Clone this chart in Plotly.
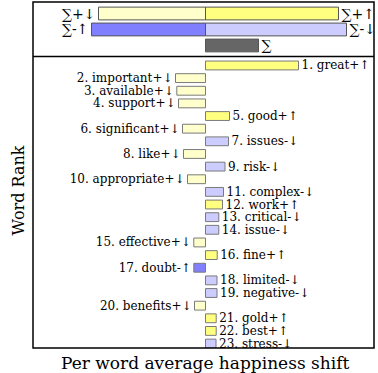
import plotly.graph_objects as go

# Top words ranked by contribution to the average happiness shift
words = ["great", "important", "available", "support", "good", "significant",
         "issues", "like", "risk", "appropriate", "complex", "work", "critical",
         "issue", "effective", "fine", "doubt", "limited", "negative", "benefits",
         "gold", "best", "stress"]
kinds = ["+↑", "+↓", "+↓", "+↓", "+↑", "+↓", "-↓", "+↓", "-↓", "+↓", "-↓", "+↑",
         "-↓", "-↓", "+↓", "+↑", "-↑", "-↓", "-↓", "+↓", "+↑", "+↑", "-↓"]
shifts = [9.3, -3.0, -2.87, -2.7, 2.4, -2.3, 2.3, -2.2, 1.95, -1.8, 1.8, 1.7,
          1.33, 1.33, -1.17, 1.17, -1.17, 1.15, 1.15, -1.1, 1.07, 1.07, 1.05]

# Summary totals by contribution type
sum_kinds = ["+↓", "+↑", "-↑", "-↓"]
sum_values = [-10.7, 13.3, -11.4, 14.1]
sum_rows = [1, 1, 2, 2]
total = sum(sum_values)

colors = {"+↑": "#FFFF80", "+↓": "#FFFFCC", "-↑": "#8080FF", "-↓": "#CCCCFF"}
FONT = "DejaVu Serif, DejaVu Sans, serif"
TEXT_VS = "\ufe0e"  # request the plain text form of the arrow glyphs

ranks = list(range(1, len(words) + 1))
labels = [f"{r}. {w}{k}{TEXT_VS}" for r, w, k in zip(ranks, words, kinds)]

fig = go.Figure()

# Main word-shift bars
fig.add_trace(go.Bar(
    x=shifts, y=ranks, orientation="h", width=0.7,
    marker=dict(color=[colors[k] for k in kinds],
                line=dict(color="#7a7a7a", width=1)),
    text=labels, textposition="outside", constraintext="none",
    textfont=dict(family=FONT, size=12, color="black"),
    cliponaxis=True, xaxis="x", yaxis="y", showlegend=False,
    hoverinfo="skip",
))

# Summary bars
fig.add_trace(go.Bar(
    x=sum_values + [total], y=sum_rows + [3], orientation="h", width=0.8,
    marker=dict(color=[colors[k] for k in sum_kinds] + ["#666666"],
                line=dict(color="#555555", width=1)),
    text=["∑" + k + TEXT_VS for k in sum_kinds] + ["∑"], textposition="outside",
    constraintext="none",
    textfont=dict(family=FONT, size=14, color="black"),
    cliponaxis=False, xaxis="x2", yaxis="y2", showlegend=False,
    hoverinfo="skip",
))

split = 0.8425
xr = [-17.25, 16.85]

fig.update_layout(
    width=378, height=373,
    margin=dict(l=33, r=4, t=2, b=25),
    paper_bgcolor="white", plot_bgcolor="white",
    barmode="overlay",
    font=dict(family=FONT, color="black"),
    xaxis=dict(domain=[0, 1], range=xr, showticklabels=False, showgrid=False,
               zeroline=False, ticks="", anchor="y"),
    yaxis=dict(domain=[0, split], range=[23.35, 0.29], showticklabels=False,
               showgrid=False, zeroline=False, ticks="", anchor="x"),
    xaxis2=dict(domain=[0, 1], range=xr, showticklabels=False, showgrid=False,
                zeroline=False, ticks="", anchor="y2"),
    yaxis2=dict(domain=[split, 1], range=[3.69, 0.28], showticklabels=False,
                showgrid=False, zeroline=False, ticks="", anchor="x2"),
    shapes=[
        dict(type="rect", xref="paper", yref="paper", x0=0, x1=1, y0=0, y1=1,
             line=dict(color="black", width=1.5)),
        dict(type="line", xref="paper", yref="paper", x0=0, x1=1,
             y0=split, y1=split, line=dict(color="black", width=1.5)),
    ],
    annotations=[
        dict(text="Per word average happiness shift", xref="paper", yref="paper",
             x=0.504, y=0, yshift=-3, xanchor="center", yanchor="top",
             showarrow=False, font=dict(family=FONT, size=17)),
        dict(text="Word Rank", xref="paper", yref="paper", x=0, xshift=-3,
             y=0.457, xanchor="right", yanchor="middle", textangle=-90,
             showarrow=False, font=dict(family=FONT, size=16)),
    ],
)

fig.write_html("out.html")
